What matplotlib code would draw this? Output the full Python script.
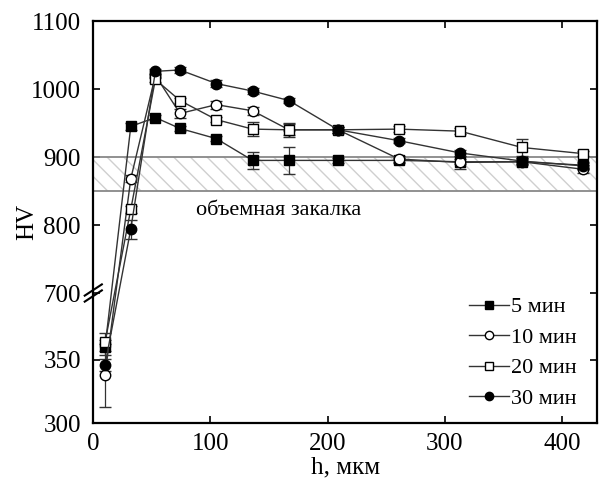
import numpy as np
from matplotlib import pyplot as plt
from matplotlib.lines import Line2D
from matplotlib.transforms import offset_copy

plt.rcParams['font.family'] = ['Liberation Serif', 'DejaVu Serif']

# depth, mkm (positions)
h = [10, 32, 53, 74, 105, 136, 167, 209, 261, 313, 366, 418]

hv_5 = [360, 945, 958, 942, 927, 895, 895, 895, 895, 893, 893, 888]
hv_10 = [338, 868, 1020, 964, 977, 968, 940, 940, 897, 892, 893, 882]
hv_20 = [364, 823, 1014, 983, 955, 941, 940, 940, 941, 938, 914, 905]
hv_30 = [346, 794, 1026, 1028, 1008, 997, 983, 940, 924, 906, 894, 887]

err_5 = [6, 5, 4, 4, 4, 13, 20, 4, 4, 4, 4, 4]
err_10 = [25, 5, 4, 6, 6, 6, 8, 4, 5, 10, 5, 6]
err_20 = [7, 5, 4, 4, 4, 10, 10, 4, 4, 4, 12, 4]
err_30 = [5, 14, 4, 4, 5, 4, 4, 4, 4, 4, 4, 4]

labels = ['5 мин', '10 мин', '20 мин', '30 мин']
y_ticks = [300, 350, 700, 800, 900, 1000, 1100]

# broken y axis: 300..403 stretched, 700..1100 normal
v_pts = [0, 300, 403, 700, 1100, 2000]
u_pts = [-47.1, 508.8, 699.8, 700, 1100, 2000]


def forward(v):
    return np.interp(v, v_pts, u_pts)


def inverse(u):
    return np.interp(u, u_pts, v_pts)


fig = plt.figure(figsize=(6.05, 4.83), dpi=100)
ax = fig.add_axes([0.1542, 0.1242, 0.8326, 0.8323])
ax.set_yscale('function', functions=(forward, inverse))

# bulk hardening band
ax.axhspan(850, 900, facecolor='none', edgecolor='#cfcfcf', hatch='\\\\', lw=0)
ax.axhline(900, color='#888888', lw=1.3)
ax.axhline(850, color='#888888', lw=1.3)
ax.text(158, 822, 'объемная закалка', ha='center', va='center', fontsize=16)

series = [(hv_5, err_5, 's', 'black'),
          (hv_10, err_10, 'o', 'white'),
          (hv_20, err_20, 's', 'white'),
          (hv_30, err_30, 'o', 'black')]
handles = []
for (vals, err, mk, fc), lab in zip(series, labels):
    ax.errorbar(h, vals, yerr=err, fmt='-', marker=mk, color='#333333', lw=1,
                mfc=fc, mec='black', ms=7.5, capsize=4, elinewidth=0.9)
    handles.append(Line2D([], [], color='#333333', lw=1, marker=mk, mfc=fc,
                          mec='black', ms=6, label=lab))

ax.set_xlim(0, 430)
ax.set_ylim(300, 1100)
ax.set_xticks([0, 100, 200, 300, 400])
ax.set_yticks(y_ticks)
ax.tick_params(direction='in', length=5, width=1.2, labelsize=18,
               top=True, right=True)
ax.tick_params(axis='x', pad=7)
ax.tick_params(axis='y', pad=9)
for s in ax.spines.values():
    s.set_linewidth(1.6)

# break mark "//" on the left axis at 700
fig.canvas.draw()
y_brk = ax.transAxes.inverted().transform(ax.transData.transform((0, 700)))[1]
for off in (-3, 3):
    tr = offset_copy(ax.transAxes, fig=fig, x=0, y=off, units='dots')
    ax.plot([-0.017, 0.017], [y_brk - 0.014, y_brk + 0.014], transform=tr,
            color='black', lw=1.5, clip_on=False)

ax.set_xlabel('h, мкм', fontsize=18, labelpad=1)
ax.set_ylabel('HV', fontsize=18, labelpad=-5)

ax.legend(handles=handles, loc='lower right', frameon=False, fontsize=16,
          handlelength=1.8, handletextpad=0.1, labelspacing=0.45,
          bbox_to_anchor=(1.0, -0.015))

fig.savefig('out.png', dpi=100)
